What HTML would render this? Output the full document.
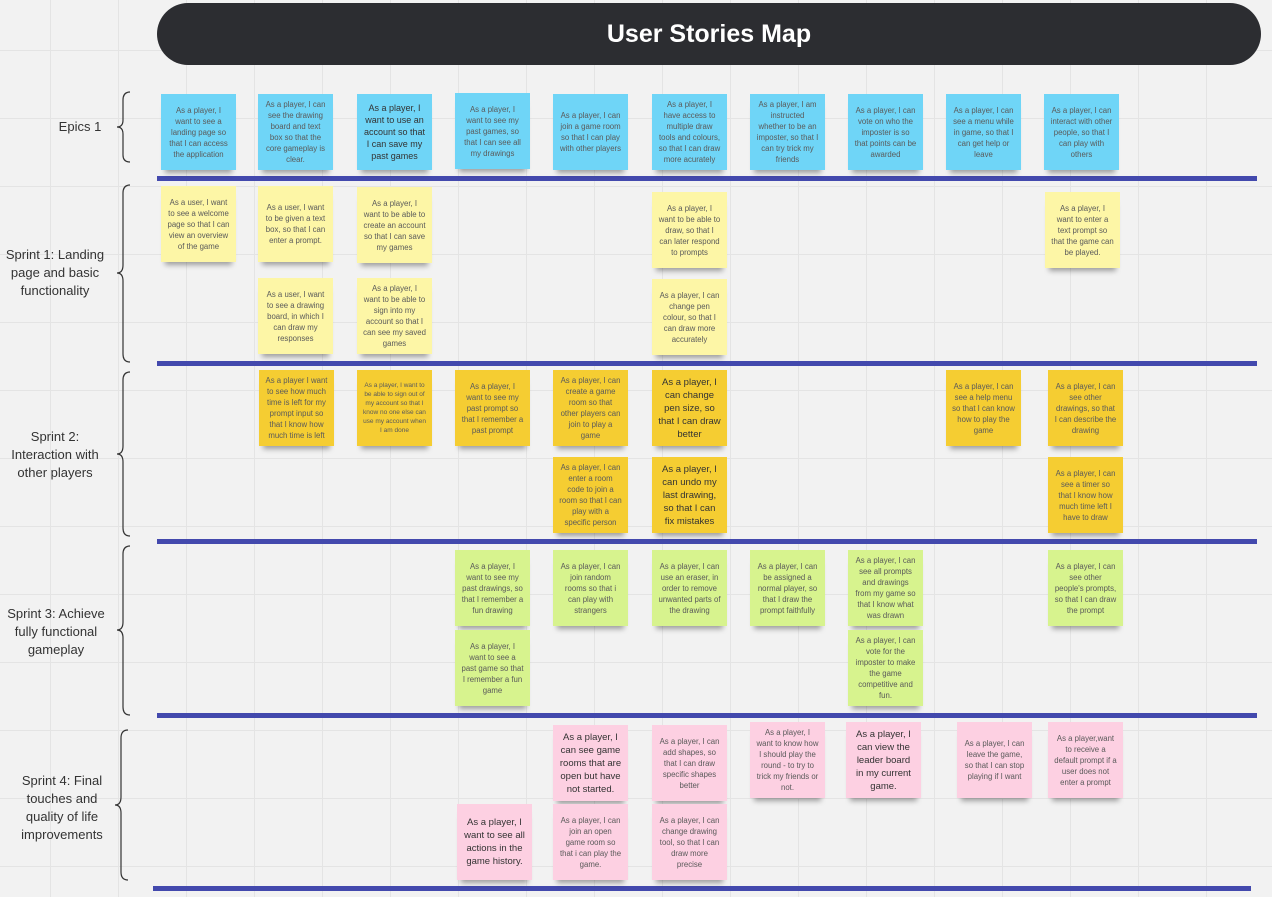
<!DOCTYPE html>
<html><head><meta charset="utf-8"><style>
*{margin:0;padding:0;box-sizing:border-box}
body{width:1272px;height:897px;overflow:hidden;background:#f2f2f2;position:relative;font-family:"Liberation Sans",sans-serif;
background-image:linear-gradient(to right,#e4e4e4 1px,transparent 1px),linear-gradient(to bottom,#e4e4e4 1px,transparent 1px);
background-size:68px 68px;background-position:50px 50px}
.title{position:absolute;left:157px;top:3px;width:1104px;height:62px;border-radius:31px;background:#2c2d31;color:#fff;font-weight:bold;font-size:25px;display:flex;align-items:center;justify-content:center}
.bar{position:absolute;height:5px;background:#4349ad}
.lab{position:absolute;text-align:center;color:#333;font-size:13px;line-height:18px}
.s{position:absolute;width:75px;height:76px;display:flex;align-items:center;justify-content:center;text-align:center;color:#5a5a5a;font-size:7.8px;line-height:11px;padding:4px 6px;box-shadow:0 7px 5px -4px rgba(0,0,0,.35);overflow:hidden}
.b{background:#6fd5f7}.y{background:#fdf6a6}.o{background:#f5cd32}.g{background:#d7f38e}.p{background:#fdd0e2}
.big{font-size:9.5px;line-height:13px;color:#333}
</style></head><body>
<div class="title">User Stories Map</div>

<div class="bar" style="left:157px;top:176px;width:1100px"></div>
<div class="bar" style="left:157px;top:361px;width:1100px"></div>
<div class="bar" style="left:157px;top:539px;width:1100px"></div>
<div class="bar" style="left:157px;top:713px;width:1100px"></div>
<div class="bar" style="left:153px;top:886px;width:1098px"></div>

<svg width="1272" height="897" style="position:absolute;left:0;top:0" fill="none" stroke="#333" stroke-width="1.2">
<path d="M130 92 Q123 92 123 100 L123 120 Q123 127 117 127 Q123 127 123 134 L123 155 Q123 162 130 162"/>
<path d="M130 185 Q123 185 123 193 L123 265 Q123 273 117 273 Q123 273 123 281 L123 354 Q123 362 130 362"/>
<path d="M130 372 Q123 372 123 380 L123 446 Q123 454 117 454 Q123 454 123 462 L123 528 Q123 536 130 536"/>
<path d="M130 546 Q123 546 123 554 L123 622 Q123 630 117 630 Q123 630 123 638 L123 707 Q123 715 130 715"/>
<path d="M128 730 Q121 730 121 738 L121 797 Q121 805 115 805 Q121 805 121 813 L121 872 Q121 880 128 880"/>
</svg>

<div class="lab" style="left:40px;top:118px;width:80px">Epics 1</div>
<div class="lab" style="left:0;top:246px;width:110px">Sprint 1: Landing page and basic functionality</div>
<div class="lab" style="left:5px;top:428px;width:100px">Sprint 2: Interaction with other players</div>
<div class="lab" style="left:0;top:605px;width:112px">Sprint 3: Achieve fully functional gameplay</div>
<div class="lab" style="left:18px;top:772px;width:88px">Sprint 4: Final touches and quality of life improvements</div>

<!-- Epics -->
<div class="s b" style="left:161px;top:94px">As a player, I want to see a landing page so that I can access the application</div>
<div class="s b" style="left:258px;top:94px">As a player, I can see the drawing board and text box so that the core gameplay is clear.</div>
<div class="s b big" style="left:357px;top:94px;font-size:9px;line-height:12px">As a player, I want to use an account so that I can save my past games</div>
<div class="s b" style="left:455px;top:93px">As a player, I want to see my past games, so that I can see all my drawings</div>
<div class="s b" style="left:553px;top:94px">As a player, I can join a game room so that I can play with other players</div>
<div class="s b" style="left:652px;top:94px">As a player, I have access to multiple draw tools and colours, so that I can draw more acurately</div>
<div class="s b" style="left:750px;top:94px">As a player, I am instructed whether to be an imposter, so that I can try trick my friends</div>
<div class="s b" style="left:848px;top:94px">As a player, I can vote on who the imposter is so that points can be awarded</div>
<div class="s b" style="left:946px;top:94px">As a player, I can see a menu while in game, so that I can get help or leave</div>
<div class="s b" style="left:1044px;top:94px">As a player, I can interact with other people, so that I can play with others</div>

<!-- Sprint 1 -->
<div class="s y" style="left:161px;top:186px">As a user, I want to see a welcome page so that I can view an overview of the game</div>
<div class="s y" style="left:258px;top:186px">As a user, I want to be given a text box, so that I can enter a prompt.</div>
<div class="s y" style="left:357px;top:187px">As a player, I want to be able to create an account so that I can save my games</div>
<div class="s y" style="left:652px;top:192px">As a player, I want to be able to draw, so that I can later respond to prompts</div>
<div class="s y" style="left:1045px;top:192px">As a player, I want to enter a text prompt so that the game can be played.</div>
<div class="s y" style="left:258px;top:278px">As a user, I want to see a drawing board, in which I can draw my responses</div>
<div class="s y" style="left:357px;top:278px">As a player, I want to be able to sign into my account so that I can see my saved games</div>
<div class="s y" style="left:652px;top:279px">As a player, I can change pen colour, so that I can draw more accurately</div>

<!-- Sprint 2 -->
<div class="s o" style="left:259px;top:370px">As a player I want to see how much time is left for my prompt input so that I know how much time is left</div>
<div class="s o" style="left:357px;top:370px;font-size:6.5px;line-height:9px">As a player, I want to be able to sign out of my account so that I know no one else can use my account when I am done</div>
<div class="s o" style="left:455px;top:370px">As a player, I want to see my past prompt so that I remember a past prompt</div>
<div class="s o" style="left:553px;top:370px">As a player, I can create a game room so that other players can join to play a game</div>
<div class="s o big" style="left:652px;top:370px">As a player, I can change pen size, so that I can draw better</div>
<div class="s o" style="left:946px;top:370px">As a player, I can see a help menu so that I can know how to play the game</div>
<div class="s o" style="left:1048px;top:370px">As a player, I can see other drawings, so that I can describe the drawing</div>
<div class="s o" style="left:553px;top:457px">As a player, I can enter a room code to join a room so that I can play with a specific person</div>
<div class="s o big" style="left:652px;top:457px">As a player, I can undo my last drawing, so that I can fix mistakes</div>
<div class="s o" style="left:1048px;top:457px">As a player, I can see a timer so that I know how much time left I have to draw</div>

<!-- Sprint 3 -->
<div class="s g" style="left:455px;top:550px">As a player, I want to see my past drawings, so that I remember a fun drawing</div>
<div class="s g" style="left:553px;top:550px">As a player, I can join random rooms so that i can play with strangers</div>
<div class="s g" style="left:652px;top:550px">As a player, I can use an eraser, in order to remove unwanted parts of the drawing</div>
<div class="s g" style="left:750px;top:550px">As a player, I can be assigned a normal player, so that I draw the prompt faithfully</div>
<div class="s g" style="left:848px;top:550px">As a player, I can see all prompts and drawings from my game so that I know what was drawn</div>
<div class="s g" style="left:1048px;top:550px">As a player, I can see other people's prompts, so that I can draw the prompt</div>
<div class="s g" style="left:455px;top:630px">As a player, I want to see a past game so that I remember a fun game</div>
<div class="s g" style="left:848px;top:630px">As a player, I can vote for the imposter to make the game competitive and fun.</div>

<!-- Sprint 4 -->
<div class="s p big" style="left:553px;top:725px">As a player, I can see game rooms that are open but have not started.</div>
<div class="s p" style="left:652px;top:725px">As a player, I can add shapes, so that I can draw specific shapes better</div>
<div class="s p" style="left:750px;top:722px">As a player, I want to know how I should play the round - to try to trick my friends or not.</div>
<div class="s p big" style="left:846px;top:722px">As a player, I can view the leader board in my current game.</div>
<div class="s p" style="left:957px;top:722px">As a player, I can leave the game, so that I can stop playing if I want</div>
<div class="s p" style="left:1048px;top:722px">As a player,want to receive a default prompt if a user does not enter a prompt</div>
<div class="s p big" style="left:457px;top:804px">As a player, I want to see all actions in the game history.</div>
<div class="s p" style="left:553px;top:804px">As a player, I can join an open game room so that i can play the game.</div>
<div class="s p" style="left:652px;top:804px">As a player, I can change drawing tool, so that I can draw more precise</div>
</body></html>
